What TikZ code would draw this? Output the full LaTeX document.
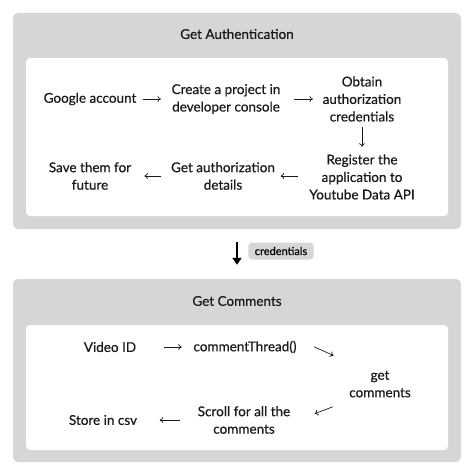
\documentclass[tikz,border=0pt]{standalone}
\usepackage{fontspec}
\setmainfont{Lato}[FakeBold=0.5]
\usetikzlibrary{arrows.meta}
\definecolor{panelgray}{HTML}{D6D6D6}
\definecolor{inkblack}{HTML}{1A1A1A}

\begin{document}
\begin{tikzpicture}[x=1pt,y=-1pt,
		panel/.style={fill=panelgray,rounded corners=5pt,inner sep=0pt},
		sheet/.style={fill=white,rounded corners=4pt,inner sep=0pt},
		stepnode/.style={align=center,inner sep=0pt,text=inkblack,font=\fontsize{13.5}{17.5}\selectfont},
		flow/.style={-{To[length=3.5pt,width=6pt]},line width=0.7pt,inkblack},
		pill/.style={fill=panelgray,rounded corners=4pt,inner xsep=6.5pt,minimum height=17pt,font=\fontsize{11}{13}\selectfont}]
	\useasboundingbox (0,0) rectangle (474,476);
	% Get Authentication
	\node[panel,minimum width=448pt,minimum height=216pt] (auth) at (237,121) {};
	\node[sheet,minimum width=422pt,minimum height=158pt] (authsheet) at (237,137) {};
	\node[stepnode] (authtitle) at (237,34) {Get Authentication};
	\node[stepnode] (google) at (90,99) {Google account};
	\node[stepnode] (project) at (226,99) {Create a project in\\developer console};
	\node[stepnode] (obtain) at (362,99) {Obtain\\authorization\\credentials};
	\node[stepnode] (register) at (362,177) {Register the\\application to\\Youtube Data API};
	\node[stepnode] (details) at (223,176) {Get authorization\\details};
	\node[stepnode] (save) at (90,176) {Save them for\\future};
	\draw[flow,shorten <=6pt,shorten >=10.5pt] (google) -- (project);
	\draw[flow,shorten <=13.5pt,shorten >=9.5pt] (project) -- (obtain.west |- project);
	\draw[flow,shorten <=5.5pt,shorten >=7.5pt] (obtain) -- (register);
	\draw[flow,shorten <=11pt,shorten >=5.5pt] (register.west |- details) -- (details);
	\draw[flow,shorten <=9.5pt,shorten >=13pt] (details) -- (save);
	% credentials
	\node[panel,minimum width=448pt,minimum height=183pt] (cmt) at (237,370.5) {};
	\draw[-{Triangle[length=7pt,width=9pt]},line width=1.8pt,black,shorten <=13pt,shorten >=14pt] (auth.south) -- (cmt.north);
	\node[pill] (cred) at (281,251) {credentials};
	% Get Comments
	\node[sheet,minimum width=422pt,minimum height=125pt] (cmtsheet) at (237,387.5) {};
	\node[stepnode] (cmttitle) at (237,301) {Get Comments};
	\node[stepnode] (video) at (110,347) {Video ID};
	\node[stepnode] (thread) at (245,347) {commentThread()};
	\node[stepnode] (getcmt) at (380,384) {get\\comments};
	\node[stepnode] (scroll) at (244,420) {Scroll for all the\\comments};
	\node[stepnode] (store) at (103,420) {Store in csv};
	\draw[flow,shorten <=28pt,shorten >=11.5pt] (video) -- (thread);
	\draw[flow,shorten <=19pt,shorten >=17pt] ([yshift=8pt]thread.east) -- ([yshift=8pt]getcmt.north west);
	\draw[flow,shorten <=17.5pt,shorten >=26pt] ([yshift=-3pt]getcmt.south west) -- ([yshift=-3pt]scroll.east);
	\draw[flow,shorten <=17.5pt,shorten >=22.5pt] (scroll) -- (store);
\end{tikzpicture}
\end{document}
